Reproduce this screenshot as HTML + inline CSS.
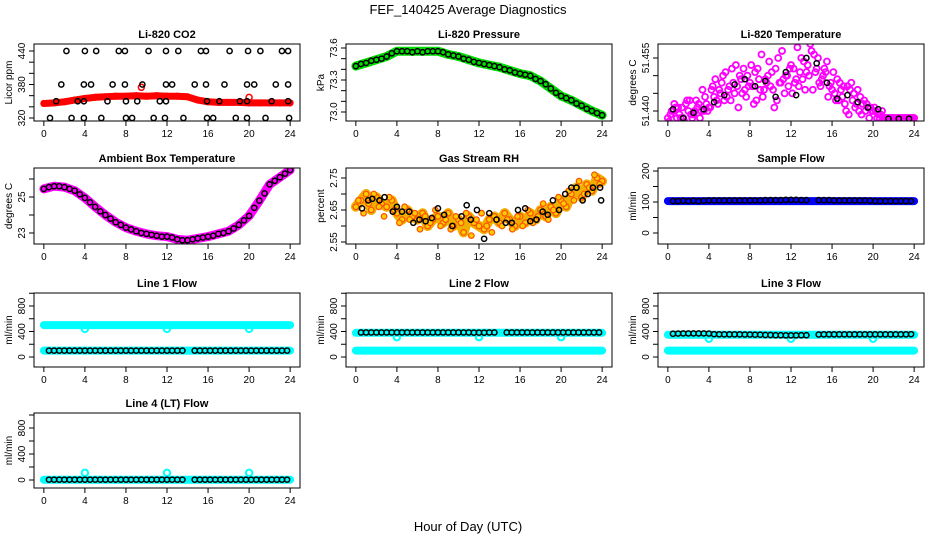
<!DOCTYPE html>
<html><head><meta charset="utf-8">
<style>
html,body{margin:0;padding:0;background:#fff;}
svg{display:block;font-family:"Liberation Sans",Arial,sans-serif;}
.t{font-size:11px;font-weight:bold;text-anchor:middle;}
.tk{font-size:10px;}
</style></head>
<body>
<svg id="chart" width="936" height="540" viewBox="0 0 936 540">
<text x="468" y="14" font-size="13" text-anchor="middle">FEF_140425  Average Diagnostics</text>
<text x="468" y="531" font-size="13" text-anchor="middle">Hour of Day (UTC)</text>
</svg>
<script>
// ---------- data ----------
const xTicks = [0,4,8,12,16,20,24];
const co2H440 = [2.2,4.0,5.1,7.3,7.9,10.2,11.9,13.1,15.3,15.8,18.1,19.9,21.1,23.2,23.8];
const co2H380 = [1.7,3.9,4.6,6.7,7.9,9.6,11.9,12.5,14.7,15.8,17.6,19.8,20.5,22.6,23.8];
const co2H350 = [1.2,3.3,3.9,6.2,8.0,9.1,11.3,11.9,15.9,17.1,19.1,19.8,22.2,23.8];
const co2H320 = [0.6,2.7,3.9,5.6,8.0,8.6,10.7,11.8,13.6,15.9,16.5,18.7,19.8,21.6,23.9];
const co2Red = [346,347,349,352,355,357,358,359,359,360,359,360,359,359,358,352,349,348,348,348,347,347,347,347,347];
const co2RedOutH = [9.5,20];
const co2RedOutV = [375,357];
const presBand = [73.43,73.46,73.49,73.52,73.57,73.57,73.57,73.57,73.57,73.54,73.52,73.49,73.46,73.44,73.42,73.39,73.36,73.34,73.29,73.22,73.15,73.11,73.06,73.01,72.97];
const presBlack = [73.45,73.48,73.5,73.55,73.57,73.56,73.56,73.57,73.56,73.53,73.5,73.47,73.45,73.43,73.4,73.37,73.35,73.31,73.26,73.18,73.13,73.08,73.03,72.99];
const tempA = [51.438,51.440,51.441,51.438,51.440,51.439,51.442,51.440,51.441,
 51.444,51.446,51.443,51.447,51.445,51.450,51.446,51.448,
 51.451,51.446,51.449,51.447,51.452,51.448,51.450,51.453,
 51.449,51.455,51.451,51.457,51.452,51.449,51.454,51.446,
 51.449,51.444,51.447,51.443,51.446,51.442,51.441,51.440,
 51.439,51.438,51.438,51.438,51.438,51.438,51.438,51.438];
const tempB = [51.439,51.441,51.438,51.442,51.439,51.443,51.440,51.442,
 51.446,51.443,51.448,51.444,51.452,51.447,51.445,51.450,
 51.447,51.452,51.444,51.450,51.446,51.455,51.449,51.447,
 51.452,51.447,51.454,51.450,51.456,51.448,51.452,51.447,
 51.445,51.448,51.442,51.446,51.441,51.444,51.440,51.441,
 51.440,51.439,51.438,51.438,51.438,51.438,51.438,51.438];
const tempC = [51.437,51.442,51.439,51.437,51.443,51.440,51.438,51.444,
 51.441,51.449,51.445,51.451,51.443,51.453,51.449,51.444,
 51.453,51.443,51.456,51.448,51.451,51.443,51.457,51.450,
 51.445,51.458,51.449,51.453,51.446,51.455,51.450,51.444,
 51.451,51.443,51.447,51.439,51.445,51.440,51.443,51.438,
 51.441,51.438,51.438,51.438,51.438,51.438,51.438,51.438];
const tempD = [51.440,51.438,51.441,51.443,51.438,51.441,51.446,51.440,
 51.447,51.442,51.450,51.446,51.448,51.441,51.452,51.447,
 51.442,51.449,51.446,51.454,51.441,51.448,51.445,51.452,
 51.448,51.451,51.446,51.459,51.451,51.447,51.451,51.448,
 51.443,51.446,51.440,51.448,51.442,51.439,51.442,51.440,
 51.438,51.440,51.438,51.438,51.438,51.438,51.438,51.438];
const tempBlack = [51.4405,51.438,51.4395,51.4405,51.4425,51.4445,51.4475,51.449,51.447,51.4485,51.444,51.451,51.4445,51.455,51.4535,51.448,51.4435,51.4445,51.4425,51.441,51.4405,51.4378,51.4378,51.4378];
const ambBand = [25.45,25.6,25.55,25.35,24.95,24.45,24.0,23.6,23.3,23.1,22.95,22.85,22.8,22.65,22.6,22.7,22.8,22.95,23.1,23.45,23.95,24.8,25.7,26.1,26.5];
const ambBlack = [25.55,25.6,25.45,25.15,24.7,24.2,23.8,23.45,23.2,23.0,22.9,22.8,22.75,22.6,22.65,22.75,22.85,23.0,23.25,23.7,24.4,25.2,25.9,26.3];
const rhA = [2.66,2.68,2.70,2.65,2.69,2.67,2.66,2.68,2.64,2.62,2.65,2.63,2.62,2.64,2.60,2.62,2.63,2.61,2.64,2.60,2.62,2.58,2.63,2.61,2.60,2.59,2.62,2.63,2.61,2.64,2.62,2.60,2.63,2.61,2.64,2.62,2.65,2.63,2.66,2.64,2.68,2.66,2.70,2.72,2.69,2.73,2.71,2.75,2.74];
const rhB = [2.68,2.64,2.67,2.70,2.66,2.63,2.69,2.65,2.61,2.66,2.62,2.64,2.59,2.63,2.61,2.65,2.60,2.62,2.59,2.63,2.61,2.64,2.57,2.62,2.64,2.60,2.58,2.62,2.60,2.62,2.59,2.63,2.60,2.65,2.61,2.63,2.67,2.62,2.65,2.69,2.67,2.71,2.68,2.74,2.70,2.72,2.76,2.73];
const rhBlackH = [0.6,1.2,1.6,2.3,2.8,3.6,4.0,4.5,5.2,5.6,6.2,6.8,7.4,8.0,8.6,9.4,10.3,10.8,11.2,11.8,12.5,13.0,13.7,14.6,15.2,15.8,16.5,17.0,17.6,18.2,18.7,19.2,19.8,20.4,21.0,21.5,22.1,22.6,23.1,23.8,23.9];
const rhBlackV = [2.655,2.68,2.685,2.68,2.69,2.645,2.66,2.645,2.645,2.61,2.62,2.615,2.625,2.655,2.635,2.60,2.63,2.665,2.62,2.65,2.56,2.64,2.62,2.61,2.61,2.65,2.655,2.615,2.62,2.645,2.635,2.68,2.65,2.70,2.72,2.72,2.68,2.70,2.72,2.72,2.68];
const flowH = [0.5,1,1.5,2,2.5,3,3.5,4,4.5,5,5.5,6,6.5,7,7.5,8,8.5,9,9.5,10,10.5,11,11.5,12,12.5,13,13.5,14.7,15.2,15.7,16.2,16.7,17.2,17.7,18.2,18.7,19.2,19.7,20.2,20.7,21.2,21.7,22.2,22.7,23.2,23.7];
const sampleBlack = [103,103,104,103,104,103,104,105,105,105,105,105,105,105,105,105,105,105,106,106,106,106,107,107,107,106,106,106,106,106,105,105,105,105,105,105,105,104,103,103,103,103,103,103,103,103];
const line1Black = [100,100,100,100,100,100,100,100,100,100,100,100,100,100,100,100,100,100,100,100,100,100,100,100,100,100,100,100,100,100,100,100,100,100,100,100,100,100,100,100,100,100,100,100,100,100];
const line2Black = [385,385,385,385,385,385,385,385,385,385,385,385,385,385,385,385,385,385,385,385,385,385,382,382,382,385,385,385,385,385,385,385,385,385,385,385,385,385,385,385,385,385,385,385,385,385];
const line3Black = [365,368,370,370,370,370,370,368,358,356,355,355,355,355,352,352,350,350,345,345,342,342,340,340,340,342,342,352,355,355,355,355,355,355,355,355,355,355,355,355,355,355,355,355,355,358];
const line4Black = [5,5,5,5,5,5,5,5,5,5,5,5,5,5,5,5,5,5,5,5,5,5,5,5,5,5,5,5,5,5,5,5,5,5,5,5,5,5,5,5,5,5,5,5,5,5];
const bandEnds = [0,24];
const sampleBlue = [103,103];
const line1CyanHi = [500,500];
const line1CyanLo = [100,100];
const line2CyanHi = [380,380];
const line2CyanLo = [100,100];
const line3CyanHi = [350,350];
const line3CyanLo = [100,100];
const line4Cyan = [5,5];
const outH = [4,12,20];
const line1Out = [440,440,440];
const line2Out = [310,310,310];
const line3Out = [285,285,285];
const line4Out = [110,110,110];

// ---------- rendering ----------
const NS = "http://www.w3.org/2000/svg";
const svg = document.getElementById('chart');
function mk(tag, attrs, parent){
  const e = document.createElementNS(NS, tag);
  for (const k in attrs) e.setAttribute(k, attrs[k]);
  (parent||svg).appendChild(e);
  return e;
}
const cols = [[34,300],[346,612],[658,924]];
const rows = [[44,121],[168,244],[293,367],[413,488]];

function panel(c, r, title, ylab, yref, yTicks, yLabels, name){
  const [L,R] = cols[c], [T,B] = rows[r];
  const g = mk('g', {});
  
  
  const xs = h => L + (h + 0.96) * (R - L) / 25.92;
  const ys = v => yref[1] + (v - yref[0]) * (yref[3] - yref[1]) / (yref[2] - yref[0]);
  const clip = 'clip-' + name;
  const cp = mk('clipPath', {id: clip}, g);
  mk('rect', {x: L, y: T, width: R - L, height: B - T}, cp);
  const plot = mk('g', {'clip-path': 'url(#' + clip + ')'}, g);
  
  
  const box = mk('rect', {x: L, y: T, width: R - L, height: B - T, fill: 'none', stroke: '#000', 'stroke-width': 1}, g);
  
  
  const tt = mk('text', {x: (L + R) / 2, y: T - 6, class: 't'}, g);
  tt.textContent = title;
  
  
  xTicks.forEach(t => {
    const x = xs(t);
    mk('line', {x1: x, x2: x, y1: B, y2: B + 5, stroke: '#000'}, g);
    const tl = mk('text', {x: x, y: B + 16, class: 'tk', 'text-anchor': 'middle'}, g);
    tl.textContent = t;
    
    
  });
  mk('line', {x1: xs(0), x2: xs(24), y1: B, y2: B, stroke: '#000'}, g);
  yTicks.forEach((t, i) => {
    const y = ys(t);
    mk('line', {x1: L - 5, x2: L, y1: y, y2: y, stroke: '#000'}, g);
    if (yLabels[i] !== '') {
      const tl = mk('text', {x: L - 9, y: y, class: 'tk', 'text-anchor': 'middle', transform: 'rotate(-90 ' + (L - 9) + ' ' + y + ')'}, g);
      tl.textContent = yLabels[i];
      
      
    }
  });
  mk('line', {x1: L, x2: L, y1: ys(yTicks[0]), y2: ys(yTicks[yTicks.length - 1]), stroke: '#000'}, g);
  const yl = mk('text', {x: L - 22, y: (T + B) / 2, 'font-size': 10, 'text-anchor': 'middle', transform: 'rotate(-90 ' + (L - 22) + ' ' + ((T + B) / 2) + ')'}, g);
  yl.textContent = ylab;
  
  
  return {xs, ys, plot};
}
function pts(p, hs, vs, color, r, sw, fill, nm){
  hs.forEach((h, i) => {
    const c = mk('circle', {cx: p.xs(h), cy: p.ys(vs[i]), r: r, fill: fill || 'none', stroke: color, 'stroke-width': sw}, p.plot);
    
    
  });
}
function band(p, hs, vs, color, w, nm){
  const d = hs.map((h, i) => p.xs(h).toFixed(1) + ',' + p.ys(vs[i]).toFixed(1)).join(' ');
  const pl = mk('polyline', {points: d, fill: 'none', stroke: color, 'stroke-width': w, 'stroke-linejoin': 'round', 'stroke-linecap': 'round'}, p.plot);
  
  
}
const hourly = ambBand.map((_, i) => i);
const halfHourly = presBlack.map((_, i) => i + 0.5);
const halfSteps = tempA.map((_, i) => i * 0.5);
const quarterSteps = tempB.map((_, i) => i * 0.5 + 0.25);
const eighthSteps = tempC.map((_, i) => i * 0.5 + 0.125);
const threeEighthSteps = tempD.map((_, i) => i * 0.5 + 0.375);
const BR = 2.6, BW = 1.5;

let p = panel(0, 0, 'Li-820 CO2', 'Licor ppm', [440, 51, 320, 118], [320,340,360,380,400,420,440], ['320','','','380','','','440'], 'co2');
band(p, hourly, co2Red, '#ff0000', 7, 'co2-red-band');
pts(p, hourly, co2Red, '#ff0000', 2.8, 1.5, null, 'co2-red-point');
pts(p, co2RedOutH, co2RedOutV, '#ff0000', 3, 1.5, null, 'co2-red-outlier');
pts(p, co2H440, co2H440.map(() => 440), '#000', BR, BW, null, 'co2-black-point');
pts(p, co2H380, co2H380.map(() => 380), '#000', BR, BW, null, 'co2-black-point');
pts(p, co2H350, co2H350.map(() => 350), '#000', BR, BW, null, 'co2-black-point');
pts(p, co2H320, co2H320.map(() => 320), '#000', BR, BW, null, 'co2-black-point');

p = panel(1, 0, 'Li-820 Pressure', 'kPa', [73.6, 48, 73.0, 112], [73.0,73.1,73.2,73.3,73.4,73.5,73.6], ['73.0','','','73.3','','','73.6'], 'pressure');
band(p, hourly, presBand, '#00dd00', 9, 'pressure-green-band');
pts(p, halfHourly, presBlack, '#000', BR, BW, null, 'pressure-black-point');
pts(p, hourly, presBand, '#000', BR, BW, null, 'pressure-black-point');

p = panel(2, 0, 'Li-820 Temperature', 'degrees C', [51.455, 58, 51.440, 111], [51.440,51.445,51.450,51.455], ['51.440','','','51.455'], 'li820-temp');
pts(p, halfSteps, tempA, '#ff00ff', 3, 1.8, null, 'temp-magenta-point');
pts(p, quarterSteps, tempB, '#ff00ff', 3, 1.8, null, 'temp-magenta-point');
pts(p, eighthSteps, tempC, '#ff00ff', 3, 1.8, null, 'temp-magenta-point');
pts(p, threeEighthSteps, tempD, '#ff00ff', 3, 1.8, null, 'temp-magenta-point');
pts(p, halfHourly, tempBlack, '#000', BR, BW, null, 'temp-black-point');

p = panel(0, 1, 'Ambient Box Temperature', 'degrees C', [25, 197, 23, 233], [23,24,25,26], ['23','','25',''], 'ambient');
band(p, hourly, ambBand, '#ff00ff', 9, 'ambient-magenta-band');
pts(p, halfHourly, ambBlack, '#000', BR, BW, null, 'ambient-black-point');
pts(p, hourly, ambBand, '#000', BR, BW, null, 'ambient-black-point');

p = panel(1, 1, 'Gas Stream RH', 'percent', [2.75, 178, 2.55, 242], [2.55,2.60,2.65,2.70,2.75], ['2.55','','2.65','','2.75'], 'rh');
band(p, halfSteps, rhA, '#f0b000', 10, 'rh-orange-band');
pts(p, halfSteps, rhA, '#ff5000', 2.8, 1.2, '#ffcc00', 'rh-orange-point');
pts(p, quarterSteps, rhB, '#ff5000', 2.8, 1.2, '#ffcc00', 'rh-orange-point');
pts(p, rhBlackH, rhBlackV, '#000', BR, BW, null, 'rh-black-point');

p = panel(2, 1, 'Sample Flow', 'ml/min', [200, 171, 0, 233], [0,50,100,150,200], ['0','','100','','200'], 'sample-flow');
band(p, bandEnds, sampleBlue, '#0000ff', 8, 'sample-blue-band');
pts(p, flowH, sampleBlack, '#000', BR, BW, null, 'sample-black-point');

const fT = [0,200,400,600,800,1000], fL = ['0','','400','','800',''];
p = panel(0, 2, 'Line 1 Flow', 'ml/min', [800, 306, 0, 357], fT, fL, 'line1');
band(p, bandEnds, line1CyanHi, '#00ffff', 8, 'line1-cyan-high');
band(p, bandEnds, line1CyanLo, '#00ffff', 8, 'line1-cyan-low');
pts(p, outH, line1Out, '#00ffff', 3.2, 2, null, 'line1-cyan-outlier');
pts(p, flowH, line1Black, '#000', BR, BW, null, 'line1-black-point');

p = panel(1, 2, 'Line 2 Flow', 'ml/min', [800, 306, 0, 357], fT, fL, 'line2');
band(p, bandEnds, line2CyanHi, '#00ffff', 8, 'line2-cyan-high');
band(p, bandEnds, line2CyanLo, '#00ffff', 8, 'line2-cyan-low');
pts(p, outH, line2Out, '#00ffff', 3.2, 2, null, 'line2-cyan-outlier');
pts(p, flowH, line2Black, '#000', BR, BW, null, 'line2-black-point');

p = panel(2, 2, 'Line 3 Flow', 'ml/min', [800, 306, 0, 357], fT, fL, 'line3');
band(p, bandEnds, line3CyanHi, '#00ffff', 8, 'line3-cyan-high');
band(p, bandEnds, line3CyanLo, '#00ffff', 8, 'line3-cyan-low');
pts(p, outH, line3Out, '#00ffff', 3.2, 2, null, 'line3-cyan-outlier');
pts(p, flowH, line3Black, '#000', BR, BW, null, 'line3-black-point');

p = panel(0, 3, 'Line 4 (LT) Flow', 'ml/min', [800, 428, 0, 480], fT, fL, 'line4');
band(p, bandEnds, line4Cyan, '#00ffff', 8, 'line4-cyan-band');
pts(p, outH, line4Out, '#00ffff', 3.2, 2, null, 'line4-cyan-outlier');
pts(p, flowH, line4Black, '#000', BR, BW, null, 'line4-black-point');
</script>
</body></html>
